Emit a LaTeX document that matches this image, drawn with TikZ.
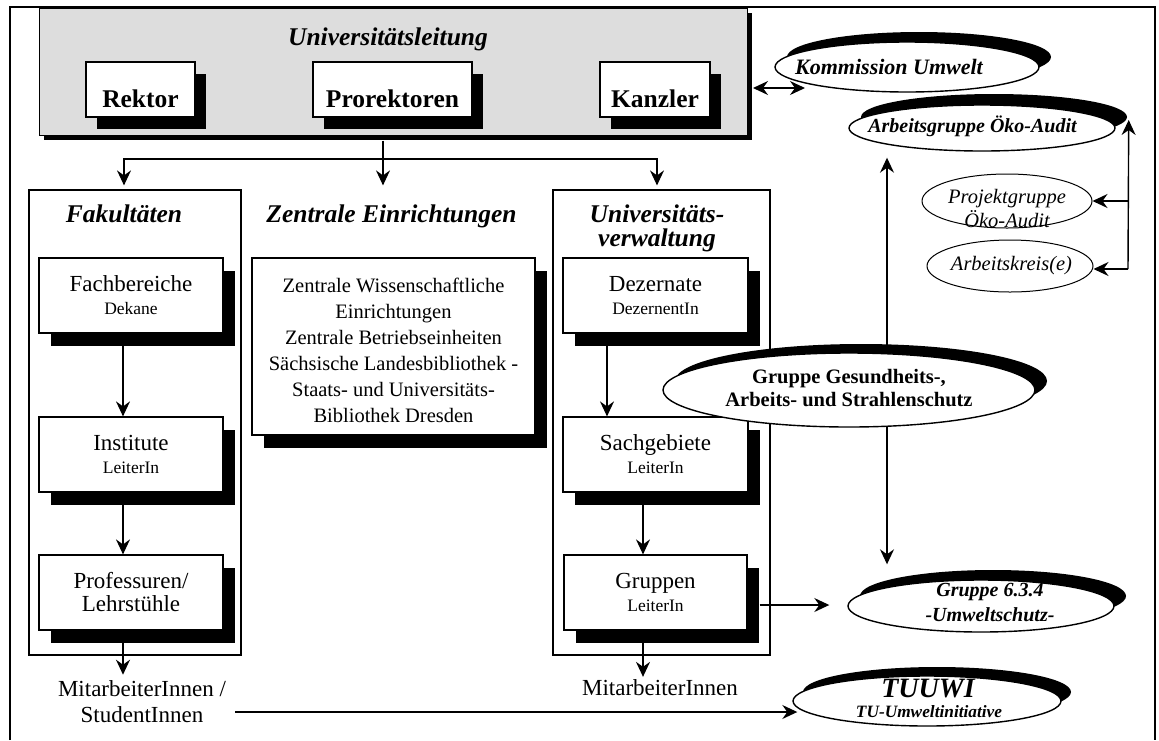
\documentclass[tikz,border=0pt]{standalone}
\usepackage{fontspec}
\setmainfont{Liberation Serif}
\usetikzlibrary{shapes.geometric,arrows.meta,shadows}
\definecolor{leitgray}{RGB}{221,221,221}
\newcommand\fsz[2]{\fontsize{#1}{#2}\selectfont}

\begin{document}
\begin{tikzpicture}[x=1pt,y=-1pt,
  tip/.tip={Stealth[length=15pt,width=14pt,inset=5pt]},
  arr/.style={-tip, line width=1.4pt},
  darr/.style={tip-tip, line width=1.4pt},
  leitbox/.style={draw, line width=1pt, fill=leitgray,
    general shadow={fill=black, shadow xshift=5pt, shadow yshift=-5pt},
    minimum width=708pt, minimum height=127pt, inner sep=0pt},
  headbox/.style={draw, line width=1.2pt, fill=white,
    general shadow={fill=black, shadow xshift=11pt, shadow yshift=-12pt},
    minimum height=55pt, inner sep=0pt, text height=35pt, text depth=0pt,
    font=\fsz{25.5}{28}\bfseries},
  unitbox/.style={draw, line width=1.2pt, fill=white,
    general shadow={fill=black, shadow xshift=12pt, shadow yshift=-12.5pt},
    minimum width=184pt, minimum height=75pt, inner sep=0pt, align=center,
    font=\fsz{23}{23}},
  groupframe/.style={draw, line width=1.2pt, inner sep=0pt, minimum height=465pt},
  headtext/.style={font=\fsz{25.5}{24}\bfseries\itshape, align=center, inner sep=0pt},
  freetext/.style={font=\fsz{23}{26}, align=center, inner sep=0pt},
  oval/.style={ellipse, draw, line width=1.4pt, fill=white, inner sep=0pt},
  thinoval/.style={ellipse, draw, line width=1pt, fill=white, inner sep=0pt},
  crescent/.style 2 args={general shadow={fill=black, shadow xshift=#1, shadow yshift=#2}},
  ovaltext/.style={inner sep=0pt, align=center},
]
\useasboundingbox (0,0) rectangle (1159,740);

% outer frame
\draw[line width=2pt] (10,740) -- (10,7) -- (1155,7) -- (1155,740);

% university management
\node[leitbox] (uleit) at (393,71.5) {};
\node[headtext, anchor=base] (uleittitle) at (388,45) {Universitätsleitung};
\node[headbox, minimum width=109pt] (rektor) at (140.5,89.5) {Rektor};
\node[headbox, minimum width=159pt] (prorek) at (392.5,89.5) {Prorektoren};
\node[headbox, minimum width=110pt] (kanzler) at (655,89.5) {Kanzler};

% columns
\node[groupframe, minimum width=212pt] (fak) at (135,422.5) {};
\node[groupframe, minimum width=217pt] (uv) at (661.5,422.5) {};
\node[headtext, anchor=base] (fakhead) at (124,222) {Fakultäten};
\node[headtext, anchor=base] (zehead) at (391.5,222) {Zentrale Einrichtungen};
\node[headtext] (uvhead) at (657,228) {Universitäts-\\verwaltung};

% faculty units
\node[unitbox] (fach) at (131,295.5) {Fachbereiche\\{\fsz{17.5}{23}Dekane}};
\node[unitbox] (inst) at (131,454.5) {Institute\\{\fsz{17.5}{23}LeiterIn}};
\node[unitbox] (prof) at (131,592.5) {Professuren/\\Lehrstühle};

% central institutions
\node[unitbox, minimum width=283pt, minimum height=177pt, font=\fsz{20.5}{26}] (zbox) at (393.5,346.5)
  {\rule{0pt}{22pt}Zentrale Wissenschaftliche\\Einrichtungen\\Zentrale Betriebseinheiten\\Sächsische Landesbibliothek -\\Staats- und Universitäts-\\Bibliothek Dresden};

% administration units
\node[unitbox, minimum width=185pt] (dez) at (655.5,295.5) {Dezernate\\{\fsz{17.5}{23}DezernentIn}};
\node[unitbox, minimum width=185pt] (sach) at (655.5,454.5) {Sachgebiete\\{\fsz{17.5}{23}LeiterIn}};
\node[unitbox, minimum width=183pt] (grup) at (655.5,592.5) {Gruppen\\{\fsz{17.5}{23}LeiterIn}};

% staff
\node[freetext] (mitstud) at (142,702) {MitarbeiterInnen /\\StudentInnen};
\node[freetext, anchor=base] (mitv) at (660,695) {MitarbeiterInnen};

% hierarchy arrows
\draw[arr] ([xshift=-8pt,yshift=-12.5pt]fach.south) -- ([xshift=-8pt]inst.north);
\draw[arr] ([xshift=-8pt,yshift=-12.5pt]inst.south) -- ([xshift=-8pt]prof.north);
\draw[arr, shorten >=6pt] ([xshift=-8pt,yshift=-12.5pt]prof.south) -- ([xshift=-8pt]prof.south |- mitstud.north);
\draw[arr] ([xshift=-48.5pt,yshift=-12.5pt]dez.south) -- ([xshift=-48.5pt]sach.north);
\draw[arr] ([xshift=-12.5pt,yshift=-12.5pt]sach.south) -- ([xshift=-12.5pt]grup.north);
\draw[arr, shorten >=2pt] ([xshift=-12.5pt,yshift=-12.5pt]grup.south) -- ([xshift=-12.5pt]grup.south |- mitv.north);

% distribution from the management
\coordinate (split) at (383,159);
\coordinate (splitL) at (124,159);
\coordinate (splitR) at (657,159);
\draw[line width=1.4pt] ([yshift=-5pt]uleit.south -| split) -- (split);
\draw[darr, shorten <=4pt, shorten >=4pt] (splitL |- fak.north) -- (splitL) -- (splitR) -- (splitR |- uv.north);
\draw[arr, shorten >=4pt] (split) -- (split |- fak.north);

% environmental bodies
\node[oval, crescent={12pt}{11pt}, minimum width=266pt, minimum height=46pt] (ag) at (982,128) {};
\node[ovaltext, font=\fsz{20}{24}\bfseries\itshape] (agtext) at ([xshift=-9.5pt,yshift=2pt]ag.center) {Arbeitsgruppe Öko-Audit};
\node[oval, crescent={12pt}{10pt}, minimum width=264pt, minimum height=50pt] (kom) at (907,67) {};
\node[ovaltext, font=\fsz{22}{24}\bfseries\itshape] (komtext) at ([xshift=-18pt]kom.center) {Kommission Umwelt};
\node[thinoval, minimum width=170pt, minimum height=54pt] (pg) at (1007,201) {};
\node[ovaltext, font=\fsz{20.5}{24}\itshape] (pgtext) at ([yshift=-7pt]pg.center) {Projektgruppe\\Öko-Audit};
\node[thinoval, minimum width=166pt, minimum height=52pt] (ak) at (1010,266) {};
\node[ovaltext, font=\fsz{20.5}{24}\itshape] (aktext) at ([xshift=1.5pt]ak.center) {Arbeitskreis(e)};
\node[oval, crescent={12pt}{10pt}, minimum width=266pt, minimum height=52pt] (g634) at (981,606) {};
\node[ovaltext, font=\fsz{20}{25}\bfseries\itshape] (g634text) at ([xshift=9pt,yshift=3.3pt]g634.center) {Gruppe 6.3.4\\-Umweltschutz-};
\node[oval, crescent={10pt}{9pt}, minimum width=268pt, minimum height=50pt] (tuuwi) at (927,701) {};
\node[ovaltext, font=\fsz{28}{30}\bfseries\itshape, anchor=base] (tuuwitext) at (928,697) {TUUWI};
\node[ovaltext, font=\fsz{17.3}{20}\bfseries\itshape, anchor=base] (tuuwisub) at (929,717) {TU-Umweltinitiative};

% link between working group and group 6.3.4
\draw[darr] ([xshift=-95pt,yshift=-6pt]ag.south) -- ([xshift=-94pt,yshift=15pt]g634.north);

\node[oval, crescent={12pt}{9pt}, minimum width=372pt, minimum height=74pt] (gg) at (849,390) {};
\node[ovaltext, font=\fsz{20.5}{23}\bfseries] (ggtext) at ([yshift=1.5pt]gg.center) {Gruppe Gesundheits-,\\Arbeits- und Strahlenschutz};

% commission link
\coordinate (komL) at (753,88);
\coordinate (komR) at (805,88);
\draw[darr] (komL) -- (komR);

% working group links
\coordinate (bus) at (1128,269);
\draw[arr] (bus) -- ([xshift=13pt,yshift=8pt]ag.east);
\draw[arr] (bus) -- (bus -| ak.east);
\draw[arr] (bus |- pg.east) -- (pg.east);

% links to group 6.3.4 and TUUWI
\draw[arr, shorten >=18pt] ([xshift=12pt,yshift=-12.5pt]grup.east) -- ([yshift=-12.5pt]grup.east -| g634.west);
\coordinate (tustart) at (235,712);
\draw[arr, shorten >=-5pt] (tustart) -- (tustart -| tuuwi.west);
\end{tikzpicture}
\end{document}
